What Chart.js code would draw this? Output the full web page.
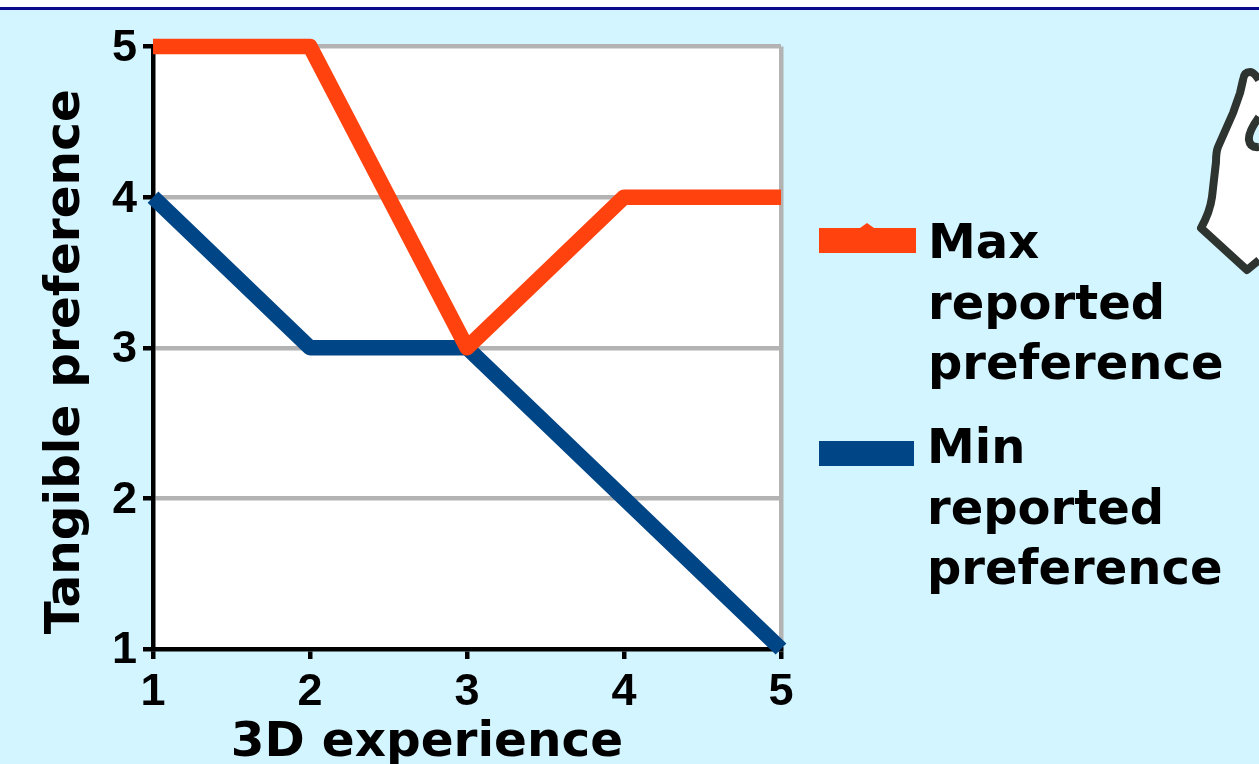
<!DOCTYPE html>
<html><head><meta charset="utf-8">
<style>html,body{margin:0;padding:0;background:#d3f5ff;overflow:hidden}canvas{display:block}</style>
<script src="https://cdn.jsdelivr.net/npm/chart.js@4"></script></head>
<body><canvas id="c" width="1259" height="764" style="width:1259px;height:764px"></canvas>
<script>
const categories = ["1","2","3","4","5"];
const maxPref = [5,5,3,4,4];
const minPref = [4,3,3,2,1];
const maxLabel = ["Max","reported","preference"];
const minLabel = ["Min","reported","preference"];
const yTitle = "Tangible preference";
const xTitle = "3D experience";
const BG="#d3f5ff", ORANGE="#ff420e", BLUE="#004586", GRID="#b3b3b3";
const PL=153, PR=781, PT=46.5, PB=649;
function handPath(c){
  c.beginPath();
  c.moveTo(1259,80);c.quadraticCurveTo(1254,72,1250,72);c.quadraticCurveTo(1244,72,1243,80);
  c.lineTo(1240,93);c.lineTo(1233,113);c.lineTo(1218,147);c.quadraticCurveTo(1216,152,1216,162);
  c.lineTo(1212,197);c.quadraticCurveTo(1210,212,1201,228);
  c.lineTo(1247,270);c.lineTo(1259,260);
}
function shiftTitle(s,dx,dy){
  if(s._shifted) return; s._shifted=true;
  const o=s.drawTitle;
  s.drawTitle=function(){const c=this.ctx;c.save();c.translate(dx,dy);o.call(this);c.restore();};
}
function shiftLabels(s,dy){
  if(s._shiftedL) return; s._shiftedL=true;
  const o=s.drawLabels;
  s.drawLabels=function(a){const c=this.ctx;c.save();c.translate(0,dy);o.call(this,a);c.restore();};
}
const deco = {
  id:'deco',
  beforeDraw(ch){
    const c=ch.ctx; c.save();
    c.fillStyle=BG; c.fillRect(0,0,1259,764);
    c.fillStyle='#fff'; c.fillRect(0,0,1259,7);
    c.fillStyle='#0a0a8c'; c.fillRect(0,7,1259,3);
    const a=ch.chartArea;
    c.fillStyle='#fff'; c.fillRect(a.left,a.top,a.width,a.height);
    c.restore();
  },
  afterDraw(ch){
    const c=ch.ctx; c.save();
    handPath(c);c.closePath();c.fillStyle='#fff';c.fill();
    handPath(c);c.strokeStyle='#2e3430';c.lineWidth=8;c.lineJoin='round';c.stroke();
    c.beginPath();c.moveTo(1259,117);c.quadraticCurveTo(1248,132,1249,140);c.quadraticCurveTo(1250,148,1259,147);
    c.closePath();c.fillStyle=BG;c.fill();
    c.beginPath();c.moveTo(1259,117);c.quadraticCurveTo(1248,132,1249,140);c.quadraticCurveTo(1250,148,1259,147);c.stroke();
    // legend
    c.fillStyle=ORANGE;c.fillRect(819,228,97,25);
    c.beginPath();c.moveTo(860,228);c.lineTo(867,223);c.lineTo(874,228);c.fill();
    c.fillStyle=BLUE;c.fillRect(819,441,95,25);
    c.fillStyle='#000';c.font='bold 48px "DejaVu Sans"';c.textBaseline='alphabetic';
    ch.data.datasets[0].legendLines.forEach((t,i)=>c.fillText(t,928,258+i*60.5));
    ch.data.datasets[1].legendLines.forEach((t,i)=>c.fillText(t,927,463+i*60.5));
    c.restore();
  }
};
new Chart(document.getElementById('c'),{
  type:'line',
  data:{labels:categories,datasets:[
    {label:maxLabel.join(' '),legendLines:maxLabel,data:maxPref,borderColor:ORANGE,backgroundColor:ORANGE,borderWidth:15.5,pointRadius:0,tension:0,borderCapStyle:'butt',borderJoinStyle:'round',clip:false},
    {label:minLabel.join(' '),legendLines:minLabel,data:minPref,borderColor:BLUE,backgroundColor:BLUE,borderWidth:15.5,pointRadius:0,tension:0,borderCapStyle:'butt',borderJoinStyle:'round',clip:false}
  ]},
  options:{
    responsive:false,animation:false,
    layout:{padding:{left:0,right:1259-PR,top:PT,bottom:0}},
    plugins:{legend:{display:false},tooltip:{enabled:false}},
    scales:{
      x:{
        offset:false,
        afterFit(s){s.height=764-PB;shiftTitle(s,-40,9);},
        border:{color:'#000',width:4.5},
        grid:{color:c=>c.index===4?GRID:'rgba(0,0,0,0)',lineWidth:4.5,tickColor:'#000',tickWidth:4.5,tickLength:10,drawOnChartArea:true},
        ticks:{color:'#000',font:{family:'Liberation Sans',weight:'bold',size:45},padding:7,maxRotation:0,autoSkip:false},
        title:{display:true,text:xTitle,color:'#000',font:{family:'DejaVu Sans',weight:'bold',size:48.5},padding:0}
      },
      y:{
        min:1,max:5,
        afterFit(s){s.width=PL;shiftTitle(s,37,14);shiftLabels(s,2);},
        border:{color:'#000',width:4.5},
        grid:{color:c=>c.index===0?'rgba(0,0,0,0)':GRID,lineWidth:4.5,tickColor:'#000',tickWidth:4.5,tickLength:10},
        ticks:{stepSize:1,color:'#000',font:{family:'Liberation Sans',weight:'bold',size:45},padding:6},
        title:{display:true,text:yTitle,color:'#000',font:{family:'DejaVu Sans',weight:'bold',size:48.5},padding:0}
      }
    }
  },
  plugins:[deco]
});
</script></body></html>
